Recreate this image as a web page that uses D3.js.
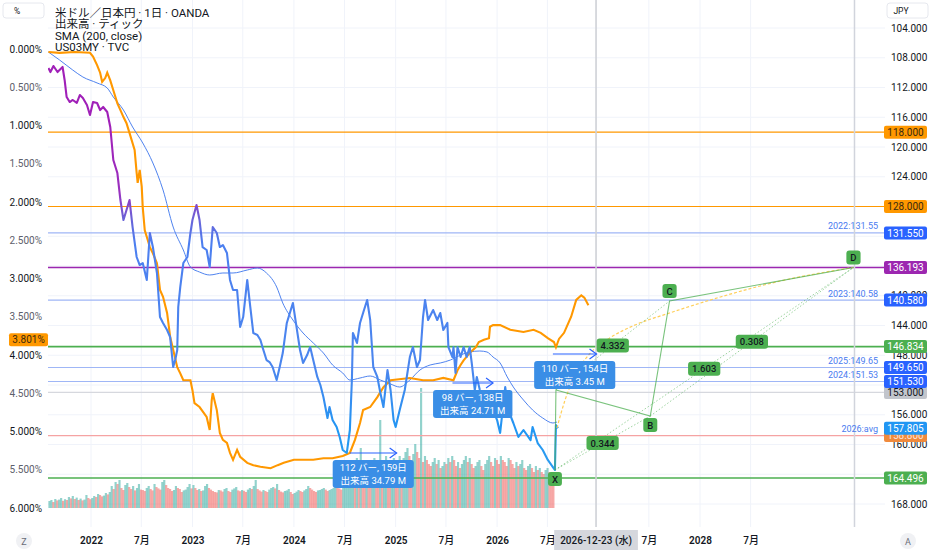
<!DOCTYPE html>
<html>
<head>
<meta charset="utf-8">
<script src="https://cdnjs.cloudflare.com/ajax/libs/d3/7.8.5/d3.min.js"></script>
<style>
  body { margin: 0; background: #fff; }
  svg { display: block; font-family: Roboto, "Noto Sans CJK JP", sans-serif; }
</style>
</head>
<body>
<svg id="chart" width="932" height="550"></svg>
<script>
// ---- data (decimal year, value) ----
var usdjpy = [[2021.58,109.38],[2021.60,109.92],[2021.63,109.11],[2021.67,109.92],[2021.69,109.65],[2021.72,109.24],[2021.74,110.99],[2021.76,113.28],[2021.79,113.95],[2021.82,113.68],[2021.86,114.08],[2021.89,113.01],[2021.92,113.41],[2021.96,114.35],[2021.99,115.70],[2022.02,113.95],[2022.06,114.08],[2022.09,115.03],[2022.12,114.62],[2022.16,115.29],[2022.19,117.31],[2022.22,121.75],[2022.26,123.50],[2022.29,127.13],[2022.32,129.82],[2022.35,128.47],[2022.38,127.13],[2022.41,130.76],[2022.45,134.79],[2022.48,135.87],[2022.51,135.60],[2022.55,137.88],[2022.58,131.56],[2022.61,133.45],[2022.65,136.94],[2022.68,142.86],[2022.71,143.66],[2022.75,144.60],[2022.78,145.55],[2022.81,149.58],[2022.83,148.64],[2022.85,147.29],[2022.86,141.51],[2022.88,138.82],[2022.91,135.60],[2022.95,134.79],[2022.98,131.56],[2023.00,129.82],[2023.04,127.80],[2023.07,129.82],[2023.10,133.45],[2023.14,133.85],[2023.17,136.13],[2023.20,130.76],[2023.24,131.56],[2023.27,133.45],[2023.30,133.18],[2023.34,134.25],[2023.37,137.88],[2023.40,139.23],[2023.44,139.23],[2023.47,144.20],[2023.50,142.86],[2023.54,137.88],[2023.57,141.51],[2023.60,145.01],[2023.64,145.28],[2023.67,145.95],[2023.69,146.89],[2023.73,148.64],[2023.76,148.91],[2023.79,149.58],[2023.83,151.33],[2023.86,149.58],[2023.89,147.70],[2023.93,143.66],[2023.96,142.32],[2023.99,140.97],[2024.03,144.60],[2024.06,147.29],[2024.09,149.04],[2024.13,147.97],[2024.16,146.89],[2024.19,148.64],[2024.23,150.92],[2024.26,152.00],[2024.29,153.61],[2024.33,156.44],[2024.35,154.96],[2024.38,156.71],[2024.42,157.65],[2024.45,158.99],[2024.48,160.74],[2024.52,161.14],[2024.55,158.05],[2024.57,151.33],[2024.58,145.01],[2024.62,146.35],[2024.65,143.66],[2024.68,142.32],[2024.72,140.57],[2024.75,143.26],[2024.78,149.58],[2024.82,150.92],[2024.85,153.08],[2024.88,154.96],[2024.92,150.00],[2024.95,152.67],[2024.98,156.71],[2025.00,157.65],[2025.04,155.36],[2025.09,152.67],[2025.14,148.24],[2025.17,146.89],[2025.21,149.58],[2025.24,148.64],[2025.27,142.86],[2025.29,140.57],[2025.32,143.26],[2025.37,141.92],[2025.41,143.26],[2025.44,142.32],[2025.47,144.60],[2025.51,143.66],[2025.52,146.89],[2025.56,148.24],[2025.57,146.89],[2025.59,150.39],[2025.61,146.89],[2025.64,148.24],[2025.67,146.89],[2025.70,148.24],[2025.73,146.89],[2025.75,149.04],[2025.78,152.67],[2025.80,150.92],[2025.83,152.67],[2025.86,154.02],[2025.90,156.30],[2025.93,154.69],[2025.96,155.36],[2026.00,156.71],[2026.03,158.45],[2026.08,152.27],[2026.11,155.36],[2026.16,157.11],[2026.21,158.99],[2026.26,158.05],[2026.33,159.40],[2026.35,157.65],[2026.40,159.80],[2026.45,160.74],[2026.50,162.08],[2026.55,163.03],[2026.57,163.43],[2026.58,157.38],[2026.60,157.80]];

var sma200 = [[2021.58,107.23],[2021.69,108.30],[2021.82,109.65],[2021.92,110.59],[2022.06,111.39],[2022.16,112.07],[2022.22,113.28],[2022.32,115.03],[2022.41,117.31],[2022.51,119.46],[2022.61,122.15],[2022.71,125.78],[2022.81,130.76],[2022.91,133.85],[2022.98,136.13],[2023.07,136.81],[2023.17,137.21],[2023.30,136.94],[2023.40,136.94],[2023.54,136.54],[2023.64,136.27],[2023.73,136.94],[2023.83,138.82],[2023.89,140.97],[2023.99,143.26],[2024.09,145.01],[2024.19,146.35],[2024.29,147.70],[2024.38,149.31],[2024.48,150.39],[2024.55,151.33],[2024.65,151.06],[2024.75,150.79],[2024.85,151.33],[2024.95,151.87],[2025.04,152.27],[2025.14,151.33],[2025.24,149.98],[2025.34,149.31],[2025.44,149.04],[2025.54,148.64],[2025.64,147.97],[2025.73,147.56],[2025.83,147.43],[2025.90,147.56],[2025.96,148.24],[2026.03,149.04],[2026.10,150.92],[2026.16,152.27],[2026.26,154.02],[2026.35,155.36],[2026.45,156.44],[2026.55,157.11],[2026.59,156.98]];

var us03my = [[2021.58,0.04],[2021.69,0.05],[2021.84,0.04],[2021.99,0.05],[2022.02,0.10],[2022.06,0.21],[2022.09,0.31],[2022.11,0.43],[2022.14,0.38],[2022.16,0.31],[2022.19,0.41],[2022.22,0.54],[2022.26,0.71],[2022.29,0.80],[2022.32,0.89],[2022.35,0.97],[2022.38,1.10],[2022.43,1.32],[2022.45,1.62],[2022.46,1.75],[2022.48,1.58],[2022.50,1.80],[2022.51,2.07],[2022.53,2.37],[2022.56,2.50],[2022.58,2.59],[2022.61,2.67],[2022.65,2.80],[2022.68,3.15],[2022.71,3.24],[2022.75,3.45],[2022.78,3.76],[2022.81,3.93],[2022.85,4.16],[2022.88,4.24],[2022.91,4.33],[2022.98,4.33],[2023.00,4.46],[2023.02,4.63],[2023.07,4.68],[2023.14,4.81],[2023.17,4.98],[2023.19,4.59],[2023.20,4.50],[2023.24,4.72],[2023.27,5.02],[2023.30,5.11],[2023.34,5.15],[2023.37,5.28],[2023.40,5.37],[2023.44,5.24],[2023.47,5.33],[2023.54,5.41],[2023.60,5.44],[2023.67,5.46],[2023.77,5.48],[2023.84,5.44],[2023.90,5.41],[2024.00,5.37],[2024.09,5.37],[2024.19,5.37],[2024.29,5.35],[2024.38,5.35],[2024.48,5.32],[2024.55,5.28],[2024.60,5.11],[2024.65,4.89],[2024.68,4.72],[2024.75,4.68],[2024.82,4.55],[2024.88,4.42],[2024.95,4.33],[2025.14,4.30],[2025.27,4.33],[2025.37,4.33],[2025.47,4.30],[2025.57,4.33],[2025.61,4.20],[2025.64,4.13],[2025.67,4.07],[2025.74,3.96],[2025.79,3.90],[2025.82,3.83],[2025.87,3.80],[2025.92,3.78],[2025.93,3.63],[2025.96,3.61],[2026.03,3.61],[2026.13,3.67],[2026.26,3.70],[2026.36,3.67],[2026.43,3.71],[2026.50,3.78],[2026.56,3.83],[2026.58,3.90],[2026.61,3.79],[2026.66,3.71],[2026.73,3.50],[2026.78,3.28],[2026.83,3.22],[2026.86,3.25],[2026.90,3.35]];

var projection = [[2026.59,157.78],[2026.67,154.02],[2026.77,150.66],[2026.92,147.70],[2027.11,145.68],[2027.36,143.93],[2027.70,142.32],[2028.20,140.17],[2028.79,138.02],[2029.51,136.19]];

// weekly tick volume (thousands), first week starts at volStart
var volStart = 2021.58;
var volumes = [35,40,30,45,38,42,50,36,44,40,55,48,60,45,52,40,47,38,42,65,50,44,
  50,60,55,70,65,58,62,75,68,80,
  110,95,130,120,140,100,90,115,125,105,95,110,88,100,120,92,
  90,85,100,110,95,88,120,105,98,92,130,140,115,100,95,85,90,110,100,95,80,88,92,105,120,98,
  115,100,90,95,85,88,110,120,100,92,85,80,78,90,88,82,95,100,85,80,92,98,105,88,84,90,
  86,80,92,100,95,110,140,95,88,82,90,85,80,92,100,105,98,120,90,82,78,85,88,95,80,70,
  75,82,90,85,80,88,95,110,100,92,85,80,88,90,95,100,92,85,90,95,100,110,105,98,92,100,110,115,150,
  210,230,190,250,220,300,240,200,230,210,190,220,250,230,210,440,200,240,260,220,210,230,250,
  240,220,260,230,250,280,300,260,240,270,320,280,250,600,230,260,240,220,210,230,250,220,240,200,210,230,
  220,250,230,260,240,210,230,200,220,240,260,230,250,220,200,210,230,240,210,190,220,240,260,230,210,250,
  240,220,260,240,230,210,250,240,220,200,230,210,220,240,200,190,210,220,200,180,210,190,200,180,170,190,200,180,160,150];

// horizontal levels drawn on the chart
var levelPrices = [118, 128, 131.55, 136.193, 140.58, 146.834, 149.65, 151.53, 158.8, 164.496];
var levelKinds  = ["orange","orange","blue","purple","blue","green","blue","blue","pink","green"];
var tagPrices = [131.55, 140.58, 149.65, 151.53, 158.8];
var tagTexts  = ["2022:131.55", "2023:140.58", "2025:149.65", "2024:151.53", "2026:avg"];

// XABCD pattern (A's tag sits under a date-range box, so only the point is drawn)
var patNames  = ["X", "A", "B", "C", "D"];
var patTimes  = [2026.57, 2026.58, 2027.51, 2027.70, 2029.51];
var patPrices = [163.43, 152.67, 156.17, 140.71, 136.193];
var ratioPairs  = [[0, 2], [1, 3], [2, 4], [0, 4]];
var ratioLabels = ["0.344", "4.332", "0.308", "1.603"];

// date ranges
var rangeStart = [2024.55, 2025.56, 2026.55];
var rangeEnd   = [2025.01, 2025.96, 2026.98];
var rangePrice = [161.14, 151.73, 147.83];
var rangeLine1 = ["112 バー, 159日", "98 バー, 138日", "110 バー, 154日"];
var rangeLine2 = ["出来高 34.79 M", "出来高 24.71 M", "出来高 3.45 M"];

var lastPrice = 157.805, lastYield = 3.801;
var crossDate = "2026-12-23", crossLabel = "2026-12-23 (水)", crossPrice = 153;
var markerLineTime = 2029.52;

// axis ticks (labels hidden behind price boxes are left out)
var rightTicks = [104,108,112,116,120,124,140,144,148,156,160,168];
var gridTicks = [104,108,112,116,120,124,128,132,136,140,144,148,152,156,160,164,168];
var leftTicks = [0,0.5,1,1.5,2,2.5,3,3.5,4,4.5,5,5.5,6];
var timeTicks = ["2022-01-01","2022-07-01","2023-01-01","2023-07-01","2024-01-01","2024-07-01","2025-01-01","2025-07-01","2026-01-01","2026-07-01","2027-07-01","2028-01-01","2028-07-01"];
var timeLabels = ["2022","7月","2023","7月","2024","7月","2025","7月","2026","7月","7月","2028","7月"];

var legend = ["米ドル／日本円 · 1日 · OANDA", "出来高 · ティック", "SMA (200, close)", "US03MY · TVC"];

// ---- helpers ----
function dy(t) {
    var yr = Math.floor(t);
    var a = new Date(yr, 0, 1), b = new Date(yr + 1, 0, 1);
    return new Date(+a + (t - yr) * (b - a));
}
var parse = d3.timeParse("%Y-%m-%d");

var plot = { left: 48, right: 885, top: 0, bottom: 527 };

var x = d3.scaleTime().domain([new Date(2022, 0, 1), new Date(2028, 0, 1)]).range([91, 700]);
var yR = d3.scaleLinear().domain([104, 168]).range([28, 504]);
var yL = d3.scaleLinear().domain([0, 6]).range([49, 508]);
var vH = d3.scaleLinear().domain([0, 600]).range([0, 120]);

var svg = d3.select("#chart");
var defs = svg.append("defs");
defs.append("clipPath").attr("id", "clip").append("rect")
    .attr("x", plot.left).attr("y", plot.top)
    .attr("width", plot.right - plot.left).attr("height", plot.bottom - plot.top);

// price line gradient, coloured by price level
var gy1 = yR(118), gy2 = yR(162);
var grad = defs.append("linearGradient").attr("id", "pg")
    .attr("gradientUnits", "userSpaceOnUse")
    .attr("x1", 0).attr("x2", 0).attr("y1", gy1).attr("y2", gy2);
[[118, "#a020b8"], [126, "#9a30bf"], [129.5, "#6c60d6"], [133, "#4c7ff0"], [150, "#4a86ee"], [158, "#2196f3"], [162, "#2b9cf0"]]
    .forEach(function (s) {
        grad.append("stop").attr("offset", (yR(s[0]) - gy1) / (gy2 - gy1)).attr("stop-color", s[1]);
    });

// grid
var grid = svg.append("g");
grid.selectAll(".hg").data(gridTicks).enter().append("line")
    .attr("x1", plot.left).attr("x2", plot.right)
    .attr("y1", function (d) { return yR(d); }).attr("y2", function (d) { return yR(d); })
    .attr("stroke", "#f0f3fa");
grid.selectAll(".vg").data(timeTicks).enter().append("line")
    .attr("x1", function (d) { return x(parse(d)); }).attr("x2", function (d) { return x(parse(d)); })
    .attr("y1", plot.top).attr("y2", plot.bottom)
    .attr("stroke", "#f0f3fa");

var g = svg.append("g").attr("clip-path", "url(#clip)");

// volume
var weekPx = x(dy(2024)) - x(dy(2024 - 7 / 365));
g.selectAll(".vol").data(volumes).enter().append("rect")
    .attr("x", function (d, i) { return x(new Date(+dy(volStart) + i * 7 * 864e5)); })
    .attr("width", weekPx + 0.2)
    .attr("y", function (d) { return yL(6) - vH(d); })
    .attr("height", function (d) { return vH(d); })
    .attr("fill", function (d, i) {
        return (i === 0 || d >= volumes[i - 1]) ? "rgba(38,166,154,0.5)" : "rgba(239,83,80,0.5)";
    });

// level lines
var levelStyle = {
    orange: ["#ff9800", 1.2], blue: ["#9fb6f6", 1.2], purple: ["#9c27b0", 1.5],
    green: ["#4caf50", 1.6], pink: ["#f5a3a3", 1.2]
};
g.selectAll(".lvl").data(levelPrices).enter().append("line")
    .attr("x1", plot.left).attr("x2", plot.right)
    .attr("y1", function (d) { return yR(d); }).attr("y2", function (d) { return yR(d); })
    .attr("stroke", function (d, i) { return levelStyle[levelKinds[i]][0]; })
    .attr("stroke-width", function (d, i) { return levelStyle[levelKinds[i]][1]; });

// crosshair horizontal
g.append("line").attr("x1", plot.left).attr("x2", plot.right)
    .attr("y1", yR(crossPrice)).attr("y2", yR(crossPrice))
    .attr("stroke", "#d6d8de").attr("stroke-width", 1.2);

var lineR = d3.line().x(function (d) { return x(dy(d[0])); }).y(function (d) { return yR(d[1]); });
var lineL = d3.line().x(function (d) { return x(dy(d[0])); }).y(function (d) { return yL(d[1]); });

// SMA
g.append("path").datum(sma200).attr("d", lineR.curve(d3.curveMonotoneX))
    .attr("fill", "none").attr("stroke", "#4f83ef").attr("stroke-width", 1);
lineR.curve(d3.curveLinear);

// yield
g.append("path").datum(us03my).attr("d", lineL)
    .attr("fill", "none").attr("stroke", "#ff9800").attr("stroke-width", 2.1);

// price
g.append("path").datum(usdjpy).attr("d", lineR)
    .attr("fill", "none").attr("stroke", "url(#pg)").attr("stroke-width", 2.1)
    .attr("stroke-linejoin", "round");

// projection curve
g.append("path").datum(projection).attr("d", lineR.curve(d3.curveMonotoneX))
    .attr("fill", "none").attr("stroke", "#ffcf5a").attr("stroke-width", 1.2)
    .attr("stroke-dasharray", "3,2");
lineR.curve(d3.curveLinear);

// vertical marker lines
g.append("line").attr("x1", x(dy(markerLineTime))).attr("x2", x(dy(markerLineTime)))
    .attr("y1", plot.top).attr("y2", plot.bottom + 4).attr("stroke", "#d1d4dc").attr("stroke-width", 1.5);
g.append("line").attr("x1", x(parse(crossDate))).attr("x2", x(parse(crossDate)))
    .attr("y1", plot.top).attr("y2", plot.bottom + 4).attr("stroke", "#cfd1d7").attr("stroke-width", 1.6);

// XABCD pattern
var pts = patNames.map(function (n, i) { return [x(dy(patTimes[i])), yR(patPrices[i])]; });
g.selectAll(".ratioLine").data(ratioPairs).enter().append("line")
    .attr("x1", function (d) { return pts[d[0]][0]; }).attr("y1", function (d) { return pts[d[0]][1]; })
    .attr("x2", function (d) { return pts[d[1]][0]; }).attr("y2", function (d) { return pts[d[1]][1]; })
    .attr("stroke", "rgba(76,175,80,0.55)").attr("stroke-width", 1).attr("stroke-dasharray", "1.5,2");
g.append("path").attr("d", d3.line()(pts))
    .attr("fill", "none").attr("stroke", "rgba(76,175,80,0.75)").attr("stroke-width", 1.1);

function greenTag(parent, cx, cy, txt) {
    var t = parent.append("g");
    var label = t.append("text").attr("x", cx).attr("y", cy + 3.5)
        .attr("text-anchor", "middle").attr("font-size", 9.5).attr("font-weight", 500)
        .attr("fill", "#131722").text(txt);
    var w = label.node().getComputedTextLength() + 8;
    t.insert("rect", "text").attr("x", cx - w / 2).attr("y", cy - 7).attr("width", w).attr("height", 14)
        .attr("rx", 3).attr("fill", "#4caf50");
}
ratioPairs.forEach(function (p, i) {
    greenTag(g, (pts[p[0]][0] + pts[p[1]][0]) / 2, (pts[p[0]][1] + pts[p[1]][1]) / 2, ratioLabels[i]);
});
patNames.forEach(function (n, i) {
    if (n === "A") return;
    var below = (n === "X" || n === "B");
    greenTag(g, pts[i][0], pts[i][1] + (below ? 9 : -10), n);
});

// date ranges
rangeStart.forEach(function (s, i) {
    var x1 = x(dy(s)), x2 = x(dy(rangeEnd[i])), yy = yR(rangePrice[i]);
    g.append("line").attr("x1", x1).attr("x2", x2).attr("y1", yy).attr("y2", yy)
        .attr("stroke", "#2962ff").attr("stroke-width", 1.2);
    g.append("path").attr("d", "M" + (x2 - 7) + "," + (yy - 5) + "L" + x2 + "," + yy + "L" + (x2 - 7) + "," + (yy + 5))
        .attr("fill", "none").attr("stroke", "#2962ff").attr("stroke-width", 1.2);
    var cx = (x1 + x2) / 2;
    var box = g.append("g");
    var t1 = box.append("text").attr("x", cx).attr("y", yy + 18).attr("text-anchor", "middle")
        .attr("font-size", 9.5).attr("fill", "#fff").text(rangeLine1[i]);
    var t2 = box.append("text").attr("x", cx).attr("y", yy + 31).attr("text-anchor", "middle")
        .attr("font-size", 9.5).attr("fill", "#fff").text(rangeLine2[i]);
    var w = Math.max(t1.node().getComputedTextLength(), t2.node().getComputedTextLength()) + 14;
    box.insert("rect", "text").attr("x", cx - w / 2).attr("y", yy + 7).attr("width", w).attr("height", 28)
        .attr("rx", 3).attr("fill", "#3a8ee6");
});

// level tags near the right edge
svg.selectAll(".tag").data(tagPrices).enter().append("text")
    .attr("x", 878).attr("y", function (d) { return yR(d) - 3.5; })
    .attr("text-anchor", "end").attr("font-size", 9).attr("fill", "#4a7bf0")
    .text(function (d, i) { return tagTexts[i]; });

// legend
svg.selectAll(".leg").data(legend).enter().append("text")
    .attr("x", 55).attr("y", function (d, i) { return 16.5 + i * 11.5; })
    .attr("font-size", 11.5).attr("fill", "#131722").text(function (d) { return d; });

// axes
var axR = svg.append("g").attr("transform", "translate(" + plot.right + ",0)")
    .call(d3.axisRight(yR).tickValues(rightTicks).tickFormat(d3.format(".3f")).tickSize(0).tickPadding(6));
var axL = svg.append("g").attr("transform", "translate(" + plot.left + ",0)")
    .call(d3.axisLeft(yL).tickValues(leftTicks).tickFormat(function (d) { return d.toFixed(3) + "%"; }).tickSize(0).tickPadding(6));
var axB = svg.append("g").attr("transform", "translate(0," + plot.bottom + ")")
    .call(d3.axisBottom(x).tickValues(timeTicks.map(parse)).tickFormat(function (d, i) { return timeLabels[i]; }).tickSize(0).tickPadding(10));
[axR, axL, axB].forEach(function (a) {
    a.select(".domain").remove();
    a.selectAll("text").attr("font-family", 'Roboto, "Noto Sans CJK JP", sans-serif').attr("font-size", 10).attr("fill", "#131722");
});
axL.selectAll("text").attr("fill", function (d) { return d % 1 === 0 ? "#131722" : "#5d606b"; });
axB.selectAll("text").attr("font-weight", function (d, i) { return timeLabels[i].length === 4 ? 600 : 500; });

// axis price boxes
function axisBox(xx, w, yy, txt, fill, color) {
    var b = svg.append("g");
    b.append("rect").attr("x", xx).attr("y", yy - 6.5).attr("width", w).attr("height", 13).attr("rx", 2).attr("fill", fill);
    b.append("text").attr("x", xx + w / 2).attr("y", yy + 3.6).attr("text-anchor", "middle")
        .attr("font-size", 10).attr("fill", color).text(txt);
}
var boxColors = {
    orange: ["#ff9800", "#3a2a10"], blue: ["#2962ff", "#fff"], purple: ["#9c27b0", "#fff"],
    green: ["#4caf50", "#fff"], pink: ["#f08a3c", "#fde2d6"]
};
levelPrices.forEach(function (p, i) {
    if (levelKinds[i] === "pink") {
        axisBox(884, 43, yR(p), p.toFixed(3), boxColors.pink[0], boxColors.pink[1]);
    }
});
axisBox(884, 43, yR(crossPrice), crossPrice.toFixed(3), "#c2c5cc", "#131722");
axisBox(884, 43, yR(lastPrice), lastPrice.toFixed(3), "#2196f3", "#fff");
levelPrices.forEach(function (p, i) {
    if (levelKinds[i] !== "pink") {
        var c = boxColors[levelKinds[i]];
        axisBox(884, 43, yR(p), p.toFixed(3), c[0], c[1]);
    }
});
axisBox(9, 39, yL(lastYield), lastYield.toFixed(3) + "%", "#ff9800", "#3a2a10");

// crosshair date box
var cdx = x(parse(crossDate));
var cdb = svg.append("g");
var cdt = cdb.append("text").attr("x", cdx).attr("y", 544).attr("text-anchor", "middle")
    .attr("font-size", 10).attr("font-weight", 500).attr("fill", "#131722").text(crossLabel);
var cw = cdt.node().getComputedTextLength() + 12;
cdb.insert("rect", "text").attr("x", cdx - cw / 2).attr("y", 530).attr("width", cw).attr("height", 20).attr("fill", "#d5d7dd");

// corner controls
function cornerBox(xx, txt) {
    svg.append("rect").attr("x", xx).attr("y", 3).attr("width", 41).attr("height", 15).attr("rx", 3)
        .attr("fill", "#fff").attr("stroke", "#e6e8ee");
    svg.append("text").attr("x", xx + 14).attr("y", 14).attr("text-anchor", "middle")
        .attr("font-size", 8.5).attr("fill", "#131722").text(txt);
}
cornerBox(3, "%");
cornerBox(887, "JPY");
[[24, "Z"], [908, "A"]].forEach(function (c) {
    svg.append("circle").attr("cx", c[0]).attr("cy", 541).attr("r", 8).attr("fill", "#f0f1f4");
    svg.append("text").attr("x", c[0]).attr("y", 544.5).attr("text-anchor", "middle")
        .attr("font-size", 9).attr("fill", "#6a6d78").text(c[1]);
});
</script>
</body>
</html>
